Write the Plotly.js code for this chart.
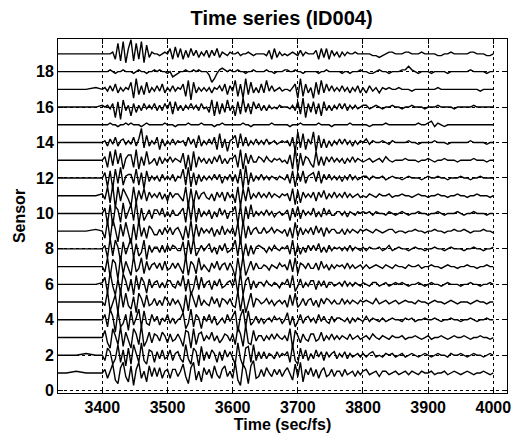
<!DOCTYPE html>
<html>
<head>
<meta charset="utf-8">
<script src="https://cdn.plot.ly/plotly-3.0.1.min.js"></script>
<style>html,body{margin:0;padding:0;background:#fff;}#chart{width:512px;height:438px;}</style>
</head>
<body>
<div id="chart"></div>
<script>
// Time samples (sec/fs)
const time = [3332,3345,3360,3375,3390,3400,
3404,3408,3412,3416,3420,3424,3428,3432,3436,3440,
3444,3448,3452,3456,3460,3464,3468,3472,3476,3480,
3484,3488,3492,3496,3500,3504,3508,3512,3516,3520,
3524,3528,3532,3536,3540,3544,3548,3552,3556,3560,
3564,3568,3572,3576,3580,3584,3588,3592,3596,3600,
3604,3608,3612,3616,3620,3624,3628,3632,3636,3640,
3644,3648,3652,3656,3660,3664,3668,3672,3676,3680,
3684,3688,3692,3696,3700,3704,3708,3712,3716,3720,
3724,3728,3732,3736,3740,3744,3748,3752,3756,3760,
3764,3768,3772,3776,3780,3784,3788,3792,3796,3800,
3805,3810,3815,3820,3825,3830,3835,3840,3845,3850,
3855,3860,3865,3870,3875,3880,3885,3890,3895,3900,
3905,3910,3915,3920,3925,3930,3935,3940,3945,3950,
3955,3960,3965,3970,3975,3980,3985,3990,3995,4000];

// Sensor signal deviations from each baseline, in tenths of the trace spacing
const s1 = [0,0,1,0,0,0,
2,-3,1,5,-4,-6,3,6,-2,-5, 4,-7,2,6,-3,1,-5,4,-2,3, -2,3,-3,1,2,-3,2,2,-2,1,
5,-2,-6,3,6,-4,1,-5,3,-1, 2,-3,4,-1,-3,2,4,-2,1,-3, 6,-4,-7,5,2,-6,4,7,-3,-2,
2,-2,3,0,-2,2,-1,2,-2,1, 3,-1,-4,5,-2,6,-5,2,-1,3, -2,2,-3,1,3,-2,-1,2,-2,1,
1,-2,2,-1,0,1,-2,1,-1,1,
2,-1,0,1,-2,1,1,-1,0,1, -1,0,1,-1,1,0,-1,1,0,0, 1,-1,0,0,1,-1,0,1,0,-1, 0,1,0,-1,0,0,1,0,-1,0];
const s2 = [0,0,0,1,0,0,
-3,4,2,-5,-2,6,-4,3,-6,4, -5,6,1,-4,7,-3,-5,3,2,-4, 2,-2,3,-2,-1,3,-3,1,2,-2,
-4,6,-2,-5,4,2,-6,5,-3,2, -2,3,1,-4,2,-3,3,-1,2,-2, -5,7,-2,-6,4,5,-4,6,-3,2,
-2,2,-2,1,0,-2,2,-1,1,0, 2,-4,6,-3,-5,4,-2,3,-3,1, -2,3,-1,2,-3,2,-1,1,2,-2,
1,-1,2,-2,1,-1,0,1,-1,1,
-1,1,2,-1,0,-1,1,0,1,-1, 0,1,-1,0,1,0,-1,0,1,0, -1,0,1,0,0,-1,1,0,0,1, 0,-1,0,1,0,0,-1,0,1,0];
const s3 = [0,0,0,0,0,0,
4,-3,-6,5,1,-4,6,-5,3,-2, -6,5,2,-4,7,-5,-2,3,-3,2, 1,-2,3,1,-3,2,-2,-1,2,-1,
-5,4,3,-6,5,-4,2,3,-2,1, -1,3,-2,1,-3,-1,2,1,-2,2, -4,6,2,-5,7,-3,-4,4,-2,1,
1,-2,1,-1,2,-1,2,0,-1,1, -2,5,-6,4,1,-3,2,-1,-2,2, 2,-2,-1,3,-2,1,-1,2,-1,1,
-1,1,0,-1,2,-1,0,1,-1,0,
1,-1,2,0,-1,1,0,-1,1,0, 0,1,-1,0,0,1,0,-1,0,1, -1,0,0,1,0,-1,0,1,0,0, 1,0,-1,0,0,1,0,0,-1,0];
const s4 = [0,0,0,0,0,0,
3,-4,6,2,-7,5,-4,-2,3,-6, 5,-3,1,6,-4,5,-2,-3,3,-1, 2,-3,1,-1,3,-2,1,-2,0,1,
4,-5,-2,6,-4,3,1,-5,2,-1, 3,-2,2,-3,-1,1,-2,3,-1,2, 5,-7,2,6,-4,5,-3,-1,2,-2,
1,-2,0,1,-1,2,0,1,-2,0, 4,-3,2,-4,-1,3,-2,1,2,-1, 1,-2,3,-1,2,-1,-2,2,-1,1,
1,0,-1,1,-2,1,-1,1,0,-1,
2,-1,1,0,-1,1,-1,0,1,0, 0,-1,1,0,1,-1,0,0,1,0, 0,1,0,-1,0,0,1,0,0,-1, 0,0,1,0,-1,0,0,1,0,0];
const s5 = [0,0,0,0,0,0,
-2,6,-5,-1,4,-6,7,-3,5,-2, -4,3,-6,5,2,-3,4,-2,-1,2, -2,1,-2,3,1,-2,2,-1,1,-2,
-6,4,-5,6,1,-3,4,-2,1,-1, -2,3,-1,2,-3,2,1,-1,2,-2, -3,6,-5,4,-6,-1,5,-3,2,1,
-1,0,2,-1,1,-2,0,1,-1,1, -3,4,-2,5,-3,-1,2,-2,1,2, -2,1,-3,2,-1,2,1,-1,1,-1,
-1,2,-1,1,-1,1,0,-1,1,0,
1,0,-1,2,-1,0,1,-1,0,1, -1,0,1,0,0,-1,1,0,0,-1, 0,1,0,0,-1,0,1,0,-1,0, 0,0,-1,0,1,0,0,-1,0,0];
const s6 = [0,0,0,0,0,1,
4,-5,7,-1,-6,3,-5,6,2,-4, 3,-6,5,-3,4,1,-5,3,-2,1, 2,-2,1,-2,2,2,-1,-2,2,-1,
5,-4,3,-6,-2,5,-3,4,-2,1, 2,-3,2,-1,3,-2,-1,1,2,-1, 4,-5,7,-6,2,4,-3,2,-2,1,
1,-1,2,0,-1,1,0,-2,1,0, 3,-2,5,-4,-1,3,-2,1,-1,2, 2,-3,2,-1,2,-2,1,1,-1,0,
1,-1,2,-1,1,-1,1,0,-1,1,
0,-1,1,1,-1,0,1,-1,0,1, 0,1,0,-1,0,0,1,0,-1,0, 1,0,0,-1,0,1,0,0,0,-1, 0,0,1,0,0,-1,0,0,1,0];
const s7 = [0,0,0,0,0,0,
-3,5,-6,4,2,-7,6,-4,3,-1, -5,6,-3,-1,5,-4,3,-2,1,2, -1,2,-2,3,-2,-1,2,-1,2,-1,
-4,6,-5,3,1,-4,5,-2,1,-1, -3,2,-1,3,-2,1,2,-2,2,-1, -6,5,-4,6,-5,-1,3,-2,2,-1,
-1,1,0,-2,1,0,-1,2,0,1, -2,4,-3,5,-4,2,1,-1,2,-1, -1,2,-2,3,-1,1,-2,1,-1,1,
0,1,-1,2,-1,1,-1,0,1,-1,
1,-1,0,1,0,-1,1,0,-1,1, 0,0,-1,1,0,0,1,-1,0,0, 1,0,0,-1,0,1,0,0,-1,0, 0,1,0,0,-1,0,0,1,0,0];
const s8 = [0,0,0,0,0,0,
2,-5,6,-4,5,1,-7,4,-3,2, 6,-5,3,-4,-2,5,-6,2,-2,1, 1,-2,2,-2,2,-1,2,1,-1,-1,
4,-6,5,-3,6,-4,-1,2,-1,1, 3,-2,1,-3,2,-1,3,-2,-1,1, 5,-4,6,-5,3,-4,2,-3,1,2,
1,0,-2,1,-1,2,0,-1,1,0, 2,-3,5,-4,2,-3,1,-2,2,-1, 2,-1,3,-2,1,-2,2,-1,1,0,
1,-1,1,-1,2,-1,1,0,-1,1,
-1,1,0,0,1,-1,0,2,-1,0, 1,0,0,-1,0,1,0,0,-1,0, 0,1,0,0,-1,0,1,0,0,0, -1,0,0,1,0,0,-1,0,0,1];
const s9 = [0,0,0,0,1,0,
-4,6,-5,7,1,-6,4,-3,5,-2, -7,4,-5,6,-3,2,-4,3,1,-2, -2,1,-2,2,-1,2,-2,1,2,-1,
-5,3,-4,6,-5,4,-3,2,-1,1, -1,2,-3,1,-2,3,-2,1,-1,2, -3,5,-7,6,-4,3,-2,1,2,-1,
-1,2,-1,0,2,-1,1,0,-1,1, -3,2,-4,5,-3,2,-2,1,-1,2, -2,3,-1,2,-3,2,-1,1,1,-1,
-1,1,-2,1,-1,1,0,-1,1,0,
1,0,-1,1,0,-1,0,1,1,-1, 0,0,-1,0,0,1,0,0,-1,0, 0,1,0,0,-1,0,0,1,0,0, 1,0,-1,0,0,0,1,0,0,-1];
const s10 = [0,0,0,0,0,0,
3,-6,5,-7,4,2,-5,6,-3,1, 5,-4,7,-6,3,-4,-1,2,-3,2, 2,-1,3,-2,1,-2,2,-1,-1,1,
3,-5,6,-4,7,-5,3,-2,1,-1, 2,-3,1,-2,3,-1,2,-3,1,1, 4,-6,5,-7,4,-3,5,-2,1,-1,
1,-1,2,-1,1,-2,0,1,-1,0, 2,-4,3,-2,4,-3,2,-1,1,-1, 3,-2,1,-2,3,-1,2,-1,-1,1,
1,-1,1,-2,1,0,-1,1,0,1,
0,1,-1,1,0,0,-1,1,0,-1, 0,1,0,-1,0,0,1,0,0,-1, 0,0,1,0,-1,0,0,0,1,0, -1,0,0,1,0,0,0,-1,0,0];
const s11 = [0,0,0,0,0,1,
-2,5,-4,6,-7,5,-3,4,1,-2, -6,5,-4,3,-2,4,-3,2,-1,1, -1,2,-2,1,-3,2,-1,1,1,-1,
-3,5,-6,4,-5,3,-2,1,2,-1, -2,1,-3,2,-1,2,-3,2,-1,1, -4,5,-6,4,-3,5,-2,1,-1,2,
-1,1,-1,2,-1,1,0,-1,1,0, 1,-3,4,-5,3,-4,2,-1,1,-1, 2,-3,2,-1,3,-2,1,-1,2,-1,
1,-1,2,-1,1,-1,0,1,-1,0,
-1,1,0,-1,1,0,0,1,-1,0, 0,1,0,0,-1,0,1,0,0,-1, 0,0,1,0,0,-1,0,0,1,0, 0,-1,0,0,1,0,0,0,-1,0];
const s12 = [0,0,0,0,0,0,
3,-5,4,-6,5,-3,6,-4,1,2, 2,-3,5,-4,3,-6,4,-2,1,-1, 1,-2,2,-1,1,-1,2,-2,1,0,
5,-4,6,-5,3,-4,2,-2,1,-1, 1,-1,2,-1,2,-3,1,-1,2,-2, 2,-3,5,-6,7,-4,3,-2,1,-1,
2,-1,1,-1,1,0,-1,1,0,-1, 2,-3,4,-5,3,-2,4,-3,1,2, 3,-2,4,-3,2,-1,2,-1,1,-1,
1,-2,1,-1,2,-1,1,-1,0,1,
1,-1,1,0,0,1,-1,0,1,0, 0,-1,0,1,0,0,0,-1,0,1, 0,0,1,0,0,-1,0,0,0,1, 0,0,-1,0,0,1,0,0,0,0];
const s13 = [0,0,0,0,0,0,
2,-4,5,-3,6,-2,4,-5,1,3, 3,-4,6,-5,2,-3,5,-2,-1,1, -3,2,-2,1,-1,2,-1,1,0,-1,
4,-5,3,-6,5,-4,2,-1,1,-2, 1,-2,2,-1,3,-2,1,-2,1,1, 3,-4,6,-5,4,-2,3,-1,-1,2,
1,-1,2,0,-1,1,0,1,-1,0, -2,3,-5,7,-6,4,-3,2,1,-2, -4,5,-3,2,-3,2,-1,2,-1,1,
-1,1,-2,1,-1,2,-1,1,0,-1,
0,1,-1,0,1,-1,2,0,-1,0, 0,0,1,0,0,0,-1,0,0,1, 0,-1,0,0,1,0,0,0,-1,0, 0,0,0,1,0,0,0,-1,0,0];
const s14 = [0,0,0,0,0,0,
1,-2,2,-1,3,-2,1,2,-1,1, -1,3,-2,2,8,-3,4,-2,1,-1, 3,-4,2,-2,1,-1,2,-1,1,0,
1,-2,3,-1,2,-3,4,-2,1,-1, 2,-1,3,-4,5,-3,2,-5,1,2, 4,-3,5,-2,3,-2,1,-1,2,-1,
1,-1,2,-1,0,1,-1,0,1,0, 1,-2,3,-5,6,-3,5,-4,2,-1, 6,-5,4,-3,2,-3,1,-2,1,-1,
2,-1,2,-1,1,-2,1,-1,1,0,
2,-1,1,0,0,1,0,-1,1,0, 0,0,0,1,0,0,-1,0,0,0, 0,1,0,0,0,-1,0,0,0,0, 0,0,1,0,0,0,0,-1,0,0];
const s15 = [0,0,0,0,0,0,
0,0,1,0,0,-1,0,0,1,0, 1,0,0,0,-1,0,1,0,0,0, 0,0,0,1,0,0,0,-1,0,0,
0,0,1,0,0,0,0,1,0,0, 0,0,-1,0,0,1,0,0,0,0, 0,0,0,1,0,0,-1,0,0,0,
0,0,0,0,1,0,0,0,0,0, 0,-1,0,0,0,1,0,0,0,0, 0,0,1,0,0,0,0,-1,0,0,
0,0,0,0,1,0,0,0,0,0,
0,-1,0,0,0,0,1,0,0,0, 0,0,0,0,0,0,1,0,0,1, 2,-1,1,0,-1,0,0,0,0,0, 0,0,0,0,0,0,0,0,0,0];
const s16 = [0,0,0,0,0,1,
0,1,-1,2,-6,3,-7,4,-2,1, -5,2,-3,1,-2,2,-1,1,-1,2, -2,1,-2,2,-1,3,-4,3,-2,1,
-2,1,-1,2,-1,1,-2,2,-1,0, -3,4,-5,3,-4,2,-3,4,-2,1, -5,3,-4,5,-3,2,-4,3,-1,2,
-2,1,-2,1,-1,0,-1,1,0,0, 0,-1,1,-2,3,-4,5,-6,2,-3, 3,-4,2,-5,3,-2,1,-2,1,-1,
2,-1,2,-2,1,-1,1,-1,0,1,
1,-1,0,1,0,-1,0,0,1,0, 0,-1,0,0,1,0,0,0,-1,0, 0,0,1,0,0,0,0,-1,0,0, 0,0,0,1,0,0,0,0,0,0];
const s17 = [0,0,0,0,1,0,
1,-1,2,-1,3,-2,1,-1,1,0, 4,-5,6,-3,2,-3,4,-2,1,-1, 2,-1,3,-2,1,-1,2,-1,1,0,
3,-4,5,-6,4,-2,1,-1,1,-1, 1,-2,1,0,2,-1,3,-3,2,-1, 5,-4,3,-5,6,-3,4,-2,1,-2,
3,-2,5,-1,2,-1,0,1,-1,0, 0,-1,1,3,-5,6,-4,3,-2,1, -5,4,-3,5,-2,3,-1,2,-1,1,
-1,2,-1,1,-2,1,-1,2,-2,1,
-2,2,-1,1,-2,1,0,1,0,0, 1,0,0,0,-1,0,0,0,0,0, 0,0,1,0,0,0,0,0,0,0, 0,0,0,0,0,-1,0,0,0,0];
const s18 = [0,0,0,0,0,0,
0,0,1,0,-1,0,0,1,0,0, 0,-1,0,1,0,0,-1,0,0,1, 0,1,0,0,-1,0,-3,-2,-1,0,
0,1,0,0,1,0,1,0,0,0, -2,-6,-4,-1,1,2,1,0,1,0, 0,1,0,0,-1,0,0,1,0,0,
0,0,1,0,0,-1,0,0,0,1, 1,0,0,1,0,0,-1,0,0,0, 0,0,-1,0,0,1,0,0,0,0,
0,-1,0,0,-1,0,0,0,1,0,
0,-1,-1,0,1,0,0,-1,0,0, 0,1,1,3,1,0,-1,0,0,0, -1,0,0,0,0,-1,0,0,0,0, 0,0,1,0,0,0,0,-1,0,0];
const s19 = [0,0,0,0,0,0,
0,0,0,1,-3,6,-4,7,-5,3, 8,-4,6,-3,7,-5,5,-2,1,0, 0,-1,0,1,0,3,-3,4,-2,3,
-3,2,-2,3,-1,2,-2,1,-1,2, -2,2,-1,3,-2,1,0,-1,1,0, 0,1,-1,0,0,1,0,-1,0,0,
0,0,-1,2,-3,3,-2,1,-1,0, -1,0,1,0,-1,2,-1,1,0,0, 0,2,-3,3,-2,3,-3,2,-1,1,
-2,1,-1,1,0,0,1,0,0,0,
0,0,-1,-1,-2,-1,0,1,1,0, 0,0,1,1,0,0,0,1,0,0, 0,0,-1,-1,0,0,1,0,0,0, 0,0,1,1,0,0,0,-1,-1,0];

const sensors = [1,2,3,4,5,6,7,8,9,10,11,12,13,14,15,16,17,18,19];
const signals = [s1,s2,s3,s4,s5,s6,s7,s8,s9,s10,s11,s12,s13,s14,s15,s16,s17,s18,s19];
const xTicks = [3400,3500,3600,3700,3800,3900,4000];
const yTicks = [0,2,4,6,8,10,12,14,16,18];

signals.forEach((s,i)=>{ if (s.length !== time.length) throw new Error('sensor '+(i+1)+' has '+s.length+' values, expected '+time.length); });

const traces = signals.map((s,i)=>({
  x: time,
  y: s.map(v => sensors[i] + v/10),
  type: 'scatter',
  mode: 'lines',
  line: {color: '#000', width: 1.4},
  hoverinfo: 'skip',
  showlegend: false
}));

const font = {family: '"Liberation Sans", Arial, sans-serif', color: '#000', size: 16, weight: 'bold'};

const layout = {
  width: 512, height: 438,
  margin: {l: 58, r: 5, t: 39, b: 45},
  paper_bgcolor: '#fff', plot_bgcolor: '#fff',
  font: font,
  title: {text: 'Time series (ID004)', font: {family: font.family, size: 20, color: '#000', weight: 'bold'}, x: 0.55, xanchor: 'center', y: 0.96, yanchor: 'middle'},
  xaxis: {
    range: [3332, 4021], tickvals: xTicks, ticktext: xTicks.map(String),
    ticks: 'inside', ticklen: 5, tickcolor: '#000', mirror: 'ticks',
    showline: true, linecolor: '#000', linewidth: 1,
    showgrid: true, gridcolor: '#000', griddash: 'dot', gridwidth: 1,
    zeroline: false, tickfont: font,
    title: {text: 'Time (sec/fs)', font: font, standoff: 2}
  },
  yaxis: {
    range: [-0.13, 19.84], tickvals: yTicks, ticktext: yTicks.map(String),
    ticks: 'inside', ticklen: 5, tickcolor: '#000', mirror: 'ticks',
    showline: true, linecolor: '#000', linewidth: 1,
    showgrid: true, gridcolor: '#000', griddash: 'dot', gridwidth: 1,
    zeroline: false, tickfont: font,
    title: {text: 'Sensor', font: font, standoff: 6}
  }
};

Plotly.newPlot('chart', traces, layout, {displayModeBar: false, staticPlot: true});
</script>
</body>
</html>
